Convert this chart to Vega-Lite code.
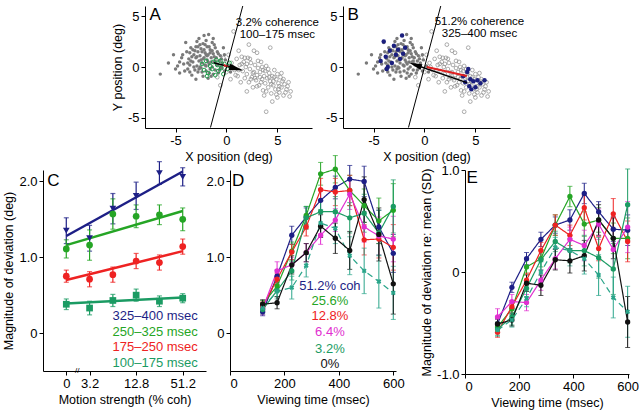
{
"$schema": "https://vega.github.io/schema/vega-lite/v6.json",
"padding": {"left": 2, "top": 5, "right": 0, "bottom": 3},
"background": "white",
"config": {
  "view": {"stroke": null},
  "font": "Liberation Sans",
  "axis": {"grid": false, "domainColor": "#000", "domainWidth": 1, "tickColor": "#000", "tickSize": 4, "labelColor": "#000", "labelFontSize": 13, "labelPadding": 2, "titleColor": "#000", "titleFontSize": 12.5, "titleFontWeight": "normal", "titlePadding": 3, "labelFont": "Liberation Sans", "titleFont": "Liberation Sans"},
  "text": {"font": "Liberation Sans"}
},
"datasets": {
  "filledCloud": [
    {"x":-6.5,"y":-0.7},{"x":-5.7,"y":0.4},{"x":-5.2,"y":1.2},{"x":-4.8,"y":0.1},{"x":-4.6,"y":-0.6},{"x":-4.4,"y":0.9},{"x":-4.2,"y":0.3},{"x":-4.0,"y":2.4},{"x":-3.9,"y":1.5},{"x":-3.8,"y":-0.2},
    {"x":-3.7,"y":0.8},{"x":-3.6,"y":0.2},{"x":-3.5,"y":1.9},{"x":-3.4,"y":-0.8},{"x":-3.3,"y":0.5},{"x":-3.2,"y":1.2},{"x":-3.1,"y":-0.3},{"x":-3.0,"y":2.0},{"x":-3.0,"y":0.9},{"x":-2.9,"y":0.1},
    {"x":-2.8,"y":1.5},{"x":-2.8,"y":-0.5},{"x":-2.7,"y":2.8},{"x":-2.7,"y":0.6},{"x":-2.6,"y":1.1},{"x":-2.5,"y":-0.1},{"x":-2.5,"y":1.8},{"x":-2.4,"y":0.4},{"x":-2.3,"y":2.3},{"x":-2.3,"y":-0.9},
    {"x":-2.2,"y":3.1},{"x":-2.2,"y":0.9},{"x":-2.1,"y":1.4},{"x":-2.0,"y":0.1},{"x":-2.0,"y":-0.4},{"x":-1.9,"y":2.0},{"x":-1.9,"y":0.7},{"x":-1.8,"y":1.2},{"x":-1.8,"y":-1.1},{"x":-1.75,"y":3.2},
    {"x":-1.7,"y":0.3},{"x":-1.6,"y":1.7},{"x":-1.6,"y":-0.2},{"x":-1.5,"y":0.9},{"x":-1.4,"y":2.4},{"x":-1.4,"y":0.0},{"x":-1.3,"y":1.3},{"x":-1.3,"y":-0.7},{"x":-1.2,"y":0.5},{"x":-1.1,"y":1.9},
    {"x":-1.1,"y":-0.3},{"x":-1.0,"y":0.9},{"x":-0.9,"y":0.2},{"x":-0.9,"y":1.5},{"x":-0.8,"y":-0.6},{"x":-0.7,"y":0.6},{"x":-0.6,"y":1.1},{"x":-0.5,"y":-0.1},{"x":-0.4,"y":0.4},{"x":-0.3,"y":1.9},
    {"x":-0.2,"y":-0.4},{"x":-0.1,"y":0.7},{"x":0.2,"y":0.1},{"x":0.4,"y":-0.5},{"x":-3.6,"y":1.4},{"x":-4.1,"y":-0.4},{"x":-2.6,"y":0.0},{"x":-2.0,"y":2.6},{"x":-1.5,"y":-0.9},{"x":-3.0,"y":-1.2},
    {"x":-3.3,"y":1.7},{"x":-2.9,"y":1.0},{"x":-2.6,"y":2.2},{"x":-2.4,"y":1.5},{"x":-2.1,"y":0.2},{"x":-1.9,"y":1.1},{"x":-1.7,"y":2.0},{"x":-1.5,"y":0.5},{"x":-1.2,"y":1.0},{"x":-2.7,"y":-0.2},
    {"x":-3.5,"y":0.6},{"x":-1.0,"y":0.3},{"x":-2.3,"y":0.8},{"x":-1.6,"y":1.4},{"x":-3.1,"y":1.6},{"x":-4.3,"y":1.2},{"x":-0.6,"y":0.0},{"x":-2.9,"y":2.5},{"x":-1.3,"y":2.8},{"x":-0.8,"y":1.3},
    {"x":-3.8,"y":0.4},{"x":-3.4,"y":1.0},{"x":-3.2,"y":0.0},{"x":-2.5,"y":0.7},{"x":-2.2,"y":1.7},{"x":-2.0,"y":1.2},{"x":-1.8,"y":0.5},{"x":-1.4,"y":1.6},{"x":-1.1,"y":0.6},{"x":-0.5,"y":0.8},
    {"x":-2.8,"y":2.0},{"x":-3.6,"y":-0.5},{"x":-2.4,"y":-0.5},{"x":-1.7,"y":-0.6},{"x":-0.7,"y":-0.3},{"x":-4.6,"y":0.5},{"x":-5.0,"y":-0.2},{"x":-2.1,"y":2.2},{"x":-1.2,"y":2.2},{"x":-0.2,"y":1.2}
  ],
  "openCloud": [
    {"x":-0.9,"y":-1.0},{"x":-0.6,"y":-1.8},{"x":-0.3,"y":0.9},{"x":0.0,"y":-0.5},{"x":0.2,"y":1.2},{"x":0.4,"y":-1.2},{"x":0.5,"y":0.4},{"x":0.7,"y":3.5},{"x":0.8,"y":-0.3},{"x":1.0,"y":0.8},
    {"x":1.1,"y":-0.9},{"x":1.3,"y":0.2},{"x":1.4,"y":-1.5},{"x":1.5,"y":1.0},{"x":1.6,"y":-0.4},{"x":1.7,"y":0.5},{"x":1.8,"y":-1.1},{"x":1.9,"y":0.0},{"x":2.0,"y":-0.7},{"x":2.1,"y":0.9},
    {"x":2.2,"y":2.2},{"x":2.2,"y":-1.5},{"x":2.3,"y":-0.2},{"x":2.4,"y":0.4},{"x":2.5,"y":-1.0},{"x":2.6,"y":-2.0},{"x":2.7,"y":1.6},{"x":2.7,"y":-0.5},{"x":2.8,"y":0.2},{"x":2.9,"y":-1.3},
    {"x":3.0,"y":-0.8},{"x":3.1,"y":-0.1},{"x":3.2,"y":-1.8},{"x":3.3,"y":-0.5},{"x":3.4,"y":0.5},{"x":3.5,"y":-1.2},{"x":3.6,"y":-2.3},{"x":3.6,"y":-0.3},{"x":3.7,"y":-0.9},{"x":3.8,"y":-1.6},
    {"x":3.9,"y":-4.4},{"x":3.9,"y":0.1},{"x":4.0,"y":-1.1},{"x":4.1,"y":-2.0},{"x":4.2,"y":-0.6},{"x":4.3,"y":1.9},{"x":4.3,"y":-1.4},{"x":4.4,"y":-2.6},{"x":4.5,"y":-0.9},{"x":4.6,"y":-1.8},
    {"x":4.7,"y":-0.3},{"x":4.8,"y":-2.2},{"x":4.9,"y":-1.2},{"x":5.0,"y":-3.0},{"x":5.0,"y":-0.7},{"x":5.1,"y":-1.6},{"x":5.2,"y":-2.5},{"x":5.3,"y":-1.0},{"x":5.4,"y":-2.0},{"x":5.5,"y":-1.4},
    {"x":5.6,"y":-2.8},{"x":5.7,"y":-1.7},{"x":5.9,"y":-2.2},{"x":6.1,"y":-1.5},{"x":6.2,"y":-2.9},{"x":6.3,"y":-2.4},{"x":1.2,"y":1.6},{"x":3.0,"y":1.4},{"x":2.0,"y":-2.4},{"x":4.5,"y":-3.4},
    {"x":1.5,"y":0.3},{"x":2.3,"y":0.8},{"x":2.6,"y":-0.6},{"x":3.0,"y":-1.9},{"x":3.3,"y":-1.0},{"x":3.5,"y":0.0},{"x":3.9,"y":-2.4},{"x":4.1,"y":-0.2},{"x":4.4,"y":-1.7},{"x":4.7,"y":-1.0},
    {"x":5.1,"y":-2.2},{"x":5.4,"y":-0.6},{"x":5.8,"y":-2.5},{"x":2.4,"y":-1.2},{"x":1.8,"y":0.9},{"x":0.6,"y":0.0},{"x":0.9,"y":-0.8},{"x":3.7,"y":-2.8},{"x":4.9,"y":-2.7},{"x":6.0,"y":-1.9},
    {"x":1.2,"y":-0.3},{"x":2.0,"y":0.3},{"x":2.8,"y":-1.1},{"x":3.4,"y":-1.5},{"x":4.2,"y":-1.0},{"x":4.6,"y":-1.4},{"x":5.2,"y":-1.9},{"x":5.6,"y":-1.2},{"x":3.1,"y":0.6},{"x":3.8,"y":-0.4}
  ],
  "greenA": [
    {"x":-2.4,"y":0.3},{"x":-2.2,"y":-0.3},{"x":-2.0,"y":0.6},{"x":-1.8,"y":-0.6},{"x":-1.6,"y":0.1},{"x":-1.4,"y":-0.2},{"x":-1.3,"y":0.5},{"x":-1.1,"y":-0.8},{"x":-0.9,"y":0.2},
    {"x":-0.8,"y":-0.4},{"x":-0.6,"y":0.6},{"x":-0.5,"y":-0.1},{"x":-0.3,"y":-0.7},{"x":-0.2,"y":0.3},{"x":0.1,"y":-0.2},{"x":0.3,"y":0.4},{"x":-1.9,"y":-0.9},{"x":-1.0,"y":0.7}
  ],
  "navyB": [
    {"x":-4.3,"y":0.6},{"x":-4.0,"y":2.5},{"x":-3.8,"y":1.0},{"x":-3.6,"y":0.0},{"x":-3.4,"y":1.6},{"x":-3.2,"y":0.4},{"x":-3.0,"y":2.1},{"x":-2.8,"y":1.2},{"x":-2.6,"y":1.7},{"x":-2.4,"y":0.8},
    {"x":-2.2,"y":3.1},{"x":-2.1,"y":1.3},{"x":-1.9,"y":1.9},{"x":-3.7,"y":-0.2},
    {"x":3.8,"y":-0.9},{"x":4.0,"y":-1.5},{"x":4.2,"y":-0.5},{"x":4.4,"y":-1.9},{"x":4.5,"y":-1.2},{"x":4.6,"y":-2.2},{"x":4.8,"y":-1.4},{"x":5.0,"y":-2.0},{"x":5.2,"y":-1.3},{"x":5.5,"y":-1.6},{"x":4.3,"y":-0.2},{"x":5.9,"y":-1.3}
  ],
  "diag": [{"x": -1.57, "y": -5.95, "x2": 1.6, "y2": 6.0}],
  "C": [
    {"grp":"325–400 msec","coh":"0","pos":0,"v":1.35,"err":0.17},
    {"grp":"325–400 msec","coh":"3.2","pos":1,"v":1.25,"err":0.17},
    {"grp":"325–400 msec","coh":"6.4","pos":2,"v":1.64,"err":0.2},
    {"grp":"325–400 msec","coh":"12.8","pos":3,"v":1.81,"err":0.18},
    {"grp":"325–400 msec","coh":"25.6","pos":4,"v":2.11,"err":0.15},
    {"grp":"325–400 msec","coh":"51.2","pos":5,"v":2.06,"err":0.12},
    {"grp":"250–325 msec","coh":"0","pos":0,"v":1.11,"err":0.12},
    {"grp":"250–325 msec","coh":"3.2","pos":1,"v":1.16,"err":0.2},
    {"grp":"250–325 msec","coh":"6.4","pos":2,"v":1.57,"err":0.2},
    {"grp":"250–325 msec","coh":"12.8","pos":3,"v":1.54,"err":0.15},
    {"grp":"250–325 msec","coh":"25.6","pos":4,"v":1.56,"err":0.13},
    {"grp":"250–325 msec","coh":"51.2","pos":5,"v":1.50,"err":0.15},
    {"grp":"175–250 msec","coh":"0","pos":0,"v":0.75,"err":0.08},
    {"grp":"175–250 msec","coh":"3.2","pos":1,"v":0.71,"err":0.1},
    {"grp":"175–250 msec","coh":"6.4","pos":2,"v":0.77,"err":0.1},
    {"grp":"175–250 msec","coh":"12.8","pos":3,"v":0.95,"err":0.1},
    {"grp":"175–250 msec","coh":"25.6","pos":4,"v":0.93,"err":0.1},
    {"grp":"175–250 msec","coh":"51.2","pos":5,"v":1.14,"err":0.1},
    {"grp":"100–175 msec","coh":"0","pos":0,"v":0.38,"err":0.07},
    {"grp":"100–175 msec","coh":"3.2","pos":1,"v":0.33,"err":0.09},
    {"grp":"100–175 msec","coh":"6.4","pos":2,"v":0.43,"err":0.08},
    {"grp":"100–175 msec","coh":"12.8","pos":3,"v":0.50,"err":0.08},
    {"grp":"100–175 msec","coh":"25.6","pos":4,"v":0.42,"err":0.07},
    {"grp":"100–175 msec","coh":"51.2","pos":5,"v":0.46,"err":0.06}
  ],
  "Cfit": [
    {"grp":"325–400 msec","pos":0,"v":1.28},{"grp":"325–400 msec","pos":5,"v":2.13},
    {"grp":"250–325 msec","pos":0,"v":1.16},{"grp":"250–325 msec","pos":5,"v":1.61},
    {"grp":"175–250 msec","pos":0,"v":0.70},{"grp":"175–250 msec","pos":5,"v":1.08},
    {"grp":"100–175 msec","pos":0,"v":0.39},{"grp":"100–175 msec","pos":5,"v":0.47}
  ],
  "Clegend": [
    {"grp":"325–400 msec","pos":5.65,"v":0.23},
    {"grp":"250–325 msec","pos":5.65,"v":0.01},
    {"grp":"175–250 msec","pos":5.65,"v":-0.19},
    {"grp":"100–175 msec","pos":5.65,"v":-0.39}
  ],
  "DE": [
    {"series":"51.2","t":120,"d":0.28,"de":0.05,"e":-0.51,"ee":0.05},
    {"series":"51.2","t":173,"d":0.75,"de":0.08,"e":-0.15,"ee":0.05},
    {"series":"51.2","t":227,"d":1.29,"de":0.12,"e":0.13,"ee":0.06},
    {"series":"51.2","t":280,"d":1.53,"de":0.12,"e":0.32,"ee":0.07},
    {"series":"51.2","t":333,"d":1.75,"de":0.15,"e":0.46,"ee":0.08},
    {"series":"51.2","t":387,"d":1.92,"de":0.15,"e":0.51,"ee":0.1},
    {"series":"51.2","t":440,"d":2.03,"de":0.18,"e":0.77,"ee":0.1},
    {"series":"51.2","t":493,"d":2.00,"de":0.2,"e":0.59,"ee":0.1},
    {"series":"51.2","t":547,"d":1.40,"de":0.22,"e":0.42,"ee":0.12},
    {"series":"51.2","t":600,"d":1.05,"de":0.25,"e":0.41,"ee":0.15},
    {"series":"25.6","t":120,"d":0.38,"de":0.05,"e":-0.54,"ee":0.05},
    {"series":"25.6","t":173,"d":0.62,"de":0.07,"e":-0.36,"ee":0.06},
    {"series":"25.6","t":227,"d":1.08,"de":0.12,"e":0.05,"ee":0.07},
    {"series":"25.6","t":280,"d":1.55,"de":0.12,"e":0.13,"ee":0.08},
    {"series":"25.6","t":333,"d":2.10,"de":0.15,"e":0.46,"ee":0.1},
    {"series":"25.6","t":387,"d":2.16,"de":0.18,"e":0.74,"ee":0.1},
    {"series":"25.6","t":440,"d":1.88,"de":0.2,"e":0.47,"ee":0.12},
    {"series":"25.6","t":493,"d":1.68,"de":0.22,"e":0.51,"ee":0.12},
    {"series":"25.6","t":547,"d":1.48,"de":0.3,"e":0.33,"ee":0.15},
    {"series":"25.6","t":600,"d":1.62,"de":0.35,"e":0.33,"ee":0.2},
    {"series":"12.8","t":120,"d":0.35,"de":0.06,"e":-0.59,"ee":0.05},
    {"series":"12.8","t":173,"d":0.71,"de":0.08,"e":-0.34,"ee":0.06},
    {"series":"12.8","t":227,"d":1.07,"de":0.1,"e":-0.08,"ee":0.07},
    {"series":"12.8","t":280,"d":1.40,"de":0.12,"e":0.21,"ee":0.08},
    {"series":"12.8","t":333,"d":1.89,"de":0.15,"e":0.46,"ee":0.1},
    {"series":"12.8","t":387,"d":1.86,"de":0.18,"e":0.36,"ee":0.1},
    {"series":"12.8","t":440,"d":1.88,"de":0.2,"e":0.63,"ee":0.12},
    {"series":"12.8","t":493,"d":1.23,"de":0.2,"e":0.23,"ee":0.12},
    {"series":"12.8","t":547,"d":1.24,"de":0.25,"e":0.57,"ee":0.15},
    {"series":"12.8","t":600,"d":1.13,"de":0.3,"e":0.30,"ee":0.2},
    {"series":"6.4","t":120,"d":0.32,"de":0.08,"e":-0.44,"ee":0.08},
    {"series":"6.4","t":173,"d":0.82,"de":0.12,"e":-0.29,"ee":0.07},
    {"series":"6.4","t":227,"d":0.90,"de":0.1,"e":-0.30,"ee":0.08},
    {"series":"6.4","t":280,"d":1.06,"de":0.12,"e":-0.08,"ee":0.1},
    {"series":"6.4","t":333,"d":1.29,"de":0.12,"e":0.13,"ee":0.1},
    {"series":"6.4","t":387,"d":1.49,"de":0.15,"e":0.32,"ee":0.12},
    {"series":"6.4","t":440,"d":1.83,"de":0.2,"e":0.26,"ee":0.15},
    {"series":"6.4","t":493,"d":1.40,"de":0.2,"e":0.47,"ee":0.15},
    {"series":"6.4","t":547,"d":1.28,"de":0.25,"e":0.22,"ee":0.2},
    {"series":"6.4","t":600,"d":1.24,"de":0.3,"e":0.44,"ee":0.25},
    {"series":"3.2","t":120,"d":0.31,"de":0.06,"e":-0.56,"ee":0.06},
    {"series":"3.2","t":173,"d":0.56,"de":0.08,"e":-0.44,"ee":0.08},
    {"series":"3.2","t":227,"d":0.82,"de":0.12,"e":-0.16,"ee":0.08},
    {"series":"3.2","t":280,"d":1.52,"de":0.15,"e":0.12,"ee":0.1},
    {"series":"3.2","t":333,"d":1.60,"de":0.15,"e":0.30,"ee":0.1},
    {"series":"3.2","t":387,"d":1.60,"de":0.2,"e":0.21,"ee":0.12},
    {"series":"3.2","t":440,"d":1.52,"de":0.2,"e":0.21,"ee":0.15},
    {"series":"3.2","t":493,"d":1.58,"de":0.25,"e":0.14,"ee":0.2},
    {"series":"3.2","t":547,"d":1.32,"de":0.3,"e":0.03,"ee":0.25},
    {"series":"3.2","t":600,"d":1.67,"de":0.35,"e":0.66,"ee":0.35},
    {"series":"3.2x","t":120,"d":0.33,"de":0.06,"e":-0.57,"ee":0.06},
    {"series":"3.2x","t":173,"d":0.55,"de":0.1,"e":-0.47,"ee":0.07},
    {"series":"3.2x","t":227,"d":0.60,"de":0.15,"e":-0.26,"ee":0.08},
    {"series":"3.2x","t":280,"d":0.89,"de":0.15,"e":0.00,"ee":0.1},
    {"series":"3.2x","t":333,"d":1.45,"de":0.18,"e":0.24,"ee":0.1},
    {"series":"3.2x","t":387,"d":1.38,"de":0.2,"e":0.21,"ee":0.15},
    {"series":"3.2x","t":440,"d":1.02,"de":0.25,"e":0.13,"ee":0.15},
    {"series":"3.2x","t":493,"d":0.82,"de":0.3,"e":-0.03,"ee":0.2},
    {"series":"3.2x","t":547,"d":0.68,"de":0.35,"e":-0.25,"ee":0.2},
    {"series":"3.2x","t":600,"d":0.53,"de":0.35,"e":-0.39,"ee":0.25},
    {"series":"0","t":120,"d":0.38,"de":0.06,"e":-0.51,"ee":0.05},
    {"series":"0","t":173,"d":0.40,"de":0.08,"e":-0.47,"ee":0.06},
    {"series":"0","t":227,"d":0.90,"de":0.12,"e":-0.11,"ee":0.08},
    {"series":"0","t":280,"d":1.06,"de":0.12,"e":-0.13,"ee":0.1},
    {"series":"0","t":333,"d":1.41,"de":0.15,"e":0.12,"ee":0.1},
    {"series":"0","t":387,"d":1.25,"de":0.2,"e":0.11,"ee":0.12},
    {"series":"0","t":440,"d":1.09,"de":0.25,"e":0.16,"ee":0.15},
    {"series":"0","t":493,"d":1.76,"de":0.3,"e":0.51,"ee":0.15},
    {"series":"0","t":547,"d":1.30,"de":0.35,"e":0.33,"ee":0.2},
    {"series":"0","t":600,"d":0.65,"de":0.4,"e":-0.49,"ee":0.25}
  ],
  "Dleg": [
    {"series":"51.2","label":"51.2% coh","t":367,"d":0.62},
    {"series":"25.6","label":"25.6%","t":367,"d":0.42},
    {"series":"12.8","label":"12.8%","t":367,"d":0.22},
    {"series":"6.4","label":"6.4%","t":367,"d":0.01},
    {"series":"3.2","label":"3.2%","t":367,"d":-0.21},
    {"series":"0","label":"0%","t":367,"d":-0.41}
  ]
},
"spacing": -8,
"vconcat": [
  {
    "spacing": 31,
    "bounds": "flush",
    "hconcat": [
      {"width": 71, "height": 122, "data": {"values": [{}]}, "mark": "text", "encoding": {"text": {"value": ""}}},
      {
        "width": 167, "height": 122,
        "encoding": {
          "x": {"field": "x", "type": "quantitative", "scale": {"domain": [-8, 8.4], "nice": false, "zero": false}, "axis": {"values": [-5, 0, 5], "title": "X position (deg)", "labelExpr": "datum.value < 0 ? '-' + abs(datum.value) : '' + datum.value"}},
          "y": {"field": "y", "type": "quantitative", "scale": {"domain": [-6, 6], "nice": false, "zero": false}, "axis": {"values": [-5, 0, 5], "title": "Y position (deg)", "labelExpr": "datum.value < 0 ? '-' + abs(datum.value) : '' + datum.value"}}
        },
        "layer": [
          {"data": {"name": "openCloud"}, "mark": {"type": "point", "shape": "circle", "filled": false, "size": 14, "strokeWidth": 0.7, "color": "#8a8a8a", "opacity": 1}},
          {"data": {"name": "filledCloud"}, "mark": {"type": "circle", "size": 12, "color": "#7a7a7a", "opacity": 1}},
          {"data": {"name": "greenA"}, "mark": {"type": "point", "shape": "circle", "filled": false, "size": 14, "strokeWidth": 1, "color": "#1ea04a", "opacity": 1}},
          {"data": {"name": "diag"}, "mark": {"type": "rule", "color": "#000", "strokeWidth": 1}, "encoding": {"x2": {"field": "x2"}, "y2": {"field": "y2"}}},
          {"data": {"values": [{"x": -1.24, "y": 0.42, "x2": 1.0, "y2": -0.17}]}, "mark": {"type": "rule", "color": "#000", "strokeWidth": 1.5}, "encoding": {"x2": {"field": "x2"}, "y2": {"field": "y2"}}},
          {"data": {"values": [{"x": 0.97, "y": -0.16}]}, "mark": {"type": "point", "shape": "M-1,-0.45L1,0L-1,0.45Z", "filled": true, "size": 200, "angle": 14.6, "color": "#000", "opacity": 1}},
          {"data": {"values": [{"x": 0.0, "y": 0.1}]}, "mark": {"type": "point", "shape": "M-1,-0.45L1,0L-1,0.45Z", "filled": true, "size": 30, "angle": 14.6, "color": "#e02020", "opacity": 1}},
          {"data": {"values": [{"x": 5.0, "y": 4.3, "label": "3.2% coherence"}, {"x": 5.0, "y": 3.1, "label": "100–175 msec"}]}, "mark": {"type": "text", "fontSize": 11.5, "align": "center", "baseline": "middle", "color": "#000"}, "encoding": {"text": {"field": "label"}}},
          {"data": {"values": [{"x": -7.0, "y": 5.1, "label": "A"}]}, "mark": {"type": "text", "fontSize": 17, "align": "center", "baseline": "middle", "color": "#000"}, "encoding": {"text": {"field": "label"}}}
        ]
      },
      {
        "width": 167, "height": 122,
        "encoding": {
          "x": {"field": "x", "type": "quantitative", "scale": {"domain": [-8, 8.4], "nice": false, "zero": false}, "axis": {"values": [-5, 0, 5], "title": "X position (deg)", "labelExpr": "datum.value < 0 ? '-' + abs(datum.value) : '' + datum.value"}},
          "y": {"field": "y", "type": "quantitative", "scale": {"domain": [-6, 6], "nice": false, "zero": false}, "axis": {"values": [-5, 0, 5], "title": null, "labelExpr": "datum.value < 0 ? '-' + abs(datum.value) : '' + datum.value"}}
        },
        "layer": [
          {"data": {"name": "openCloud"}, "mark": {"type": "point", "shape": "circle", "filled": false, "size": 14, "strokeWidth": 0.7, "color": "#8a8a8a", "opacity": 1}},
          {"data": {"name": "filledCloud"}, "mark": {"type": "circle", "size": 12, "color": "#7a7a7a", "opacity": 1}},
          {"data": {"name": "navyB"}, "mark": {"type": "circle", "size": 20, "color": "#1b1f7e", "opacity": 1}},
          {"data": {"name": "diag"}, "mark": {"type": "rule", "color": "#000", "strokeWidth": 1}, "encoding": {"x2": {"field": "x2"}, "y2": {"field": "y2"}}},
          {"data": {"values": [{"x": 4.16, "y": -1.54, "x2": -1.0, "y2": 0.24}]}, "mark": {"type": "rule", "color": "#000", "strokeWidth": 1.5}, "encoding": {"x2": {"field": "x2"}, "y2": {"field": "y2"}}},
          {"data": {"values": [{"x": 0.23, "y": 0.0, "x2": 4.16, "y2": -0.88}]}, "mark": {"type": "rule", "color": "#e02020", "strokeWidth": 2}, "encoding": {"x2": {"field": "x2"}, "y2": {"field": "y2"}}},
          {"data": {"values": [{"x": -0.9, "y": 0.21}]}, "mark": {"type": "point", "shape": "M-1,-0.45L1,0L-1,0.45Z", "filled": true, "size": 170, "angle": 199, "color": "#000", "opacity": 1}},
          {"data": {"values": [{"x": 5.4, "y": 4.4, "label": "51.2% coherence"}, {"x": 5.4, "y": 3.2, "label": "325–400 msec"}]}, "mark": {"type": "text", "fontSize": 11.5, "align": "center", "baseline": "middle", "color": "#000"}, "encoding": {"text": {"field": "label"}}},
          {"data": {"values": [{"x": -7.0, "y": 5.1, "label": "B"}]}, "mark": {"type": "text", "fontSize": 17, "align": "center", "baseline": "middle", "color": "#000"}, "encoding": {"text": {"field": "label"}}}
        ]
      }
    ]
  },
  {
    "spacing": 24,
    "bounds": "flush",
    "resolve": {"scale": {"color": "independent"}},
    "hconcat": [
      {
        "width": 163, "height": 201,
        "encoding": {
          "x": {"field": "pos", "type": "quantitative", "scale": {"domain": [-1, 6], "nice": false, "zero": false}, "axis": {"values": [0, 1, 3, 5], "title": "Motion strength (% coh)", "labelExpr": "datum.value == 0 ? '0' : datum.value == 1 ? '3.2' : datum.value == 3 ? '12.8' : '51.2'"}},
          "y": {"field": "v", "type": "quantitative", "scale": {"domain": [-0.5, 2.15], "nice": false, "zero": false}, "axis": {"values": [0, 1, 2], "title": "Magnitude of deviation (deg)", "labelExpr": "datum.value == 0 ? '0' : format(datum.value, '.1f')"}},
          "color": {"field": "grp", "type": "nominal", "scale": {"domain": ["325–400 msec", "250–325 msec", "175–250 msec", "100–175 msec"], "range": ["#1d1f86", "#25a525", "#ee2222", "#1b9b63"]}, "legend": null}
        },
        "layer": [
          {"data": {"name": "Cfit"}, "mark": {"type": "line", "strokeWidth": 2.5}},
          {"data": {"name": "C"}, "mark": {"type": "errorbar", "ticks": true, "thickness": 1.2}, "encoding": {"yError": {"field": "err"}}},
          {"data": {"name": "C"}, "mark": {"type": "point", "filled": true, "size": 45, "opacity": 1}, "encoding": {"shape": {"field": "grp", "type": "nominal", "scale": {"domain": ["325–400 msec", "250–325 msec", "175–250 msec", "100–175 msec"], "range": ["triangle-down", "circle", "circle", "square"]}, "legend": null}}},
          {"data": {"name": "Clegend"}, "mark": {"type": "text", "align": "right", "baseline": "middle", "fontSize": 13}, "encoding": {"text": {"field": "grp"}}},
          {"data": {"values": [{"pos": -0.55, "v": 2.0, "label": "C"}]}, "mark": {"type": "text", "fontSize": 17, "align": "center", "baseline": "middle"}, "encoding": {"text": {"field": "label"}, "color": {"value": "#000"}}},
          {"data": {"values": [{"pos": 0.47, "v": -0.5, "label": "//"}]}, "mark": {"type": "text", "fontSize": 8, "align": "center", "baseline": "middle"}, "encoding": {"text": {"field": "label"}, "color": {"value": "#000"}}}
        ]
      },
      {
        "width": 166, "height": 201,
        "data": {"name": "DE"},
        "encoding": {
          "x": {"field": "t", "type": "quantitative", "scale": {"domain": [0, 610], "nice": false, "zero": false}, "axis": {"values": [0, 200, 400, 600], "title": "Viewing time (msec)"}},
          "y": {"field": "d", "type": "quantitative", "scale": {"domain": [-0.5, 2.15], "nice": false, "zero": false}, "axis": {"values": [0, 1, 2], "title": null, "labelExpr": "datum.value == 0 ? '0' : format(datum.value, '.1f')"}},
          "color": {"field": "series", "type": "nominal", "scale": {"domain": ["51.2", "25.6", "12.8", "6.4", "3.2", "3.2x", "0"], "range": ["#1d1f86", "#25a525", "#ee2222", "#e12fd0", "#1b9b63", "#2aa58a", "#111111"]}, "legend": null}
        },
        "layer": [
          {"mark": {"type": "errorbar", "ticks": true, "thickness": 1}, "encoding": {"yError": {"field": "de"}}},
          {"mark": {"type": "line", "strokeWidth": 1.2}, "encoding": {"strokeDash": {"field": "series", "type": "nominal", "scale": {"domain": ["51.2", "25.6", "12.8", "6.4", "3.2", "3.2x", "0"], "range": [[1, 0], [1, 0], [1, 0], [1, 0], [1, 0], [6, 4], [1, 0]]}, "legend": null}}},
          {"transform": [{"filter": "datum.series != '3.2x'"}], "mark": {"type": "circle", "size": 28, "opacity": 1}},
          {"transform": [{"filter": "datum.series == '3.2x'"}], "mark": {"type": "point", "shape": "cross", "angle": 45, "filled": true, "size": 25, "opacity": 1}},
          {"data": {"name": "Dleg"}, "mark": {"type": "text", "align": "center", "baseline": "middle", "fontSize": 13}, "encoding": {"text": {"field": "label"}}},
          {"data": {"values": [{"t": 30, "d": 2.0, "label": "D"}]}, "mark": {"type": "text", "fontSize": 17, "align": "center", "baseline": "middle"}, "encoding": {"text": {"field": "label"}, "color": {"value": "#000"}}}
        ]
      },
      {"width": 21, "height": 201, "data": {"values": [{}]}, "mark": "text", "encoding": {"text": {"value": ""}}},
      {
        "width": 164, "height": 204,
        "data": {"name": "DE"},
        "encoding": {
          "x": {"field": "t", "type": "quantitative", "scale": {"domain": [0, 605], "nice": false, "zero": false}, "axis": {"values": [0, 200, 400, 600], "title": "Viewing time (msec)"}},
          "y": {"field": "e", "type": "quantitative", "scale": {"domain": [-1, 1], "nice": false, "zero": false}, "axis": {"values": [-1, 0, 1], "title": "Magnitude of deviation re: mean (SD)", "labelExpr": "datum.value == 0 ? '0' : (datum.value < 0 ? '-' : '') + format(abs(datum.value), '.1f')"}},
          "color": {"field": "series", "type": "nominal", "scale": {"domain": ["51.2", "25.6", "12.8", "6.4", "3.2", "3.2x", "0"], "range": ["#1d1f86", "#25a525", "#ee2222", "#e12fd0", "#1b9b63", "#2aa58a", "#111111"]}, "legend": null}
        },
        "layer": [
          {"mark": {"type": "errorbar", "ticks": true, "thickness": 1}, "encoding": {"yError": {"field": "ee"}}},
          {"mark": {"type": "line", "strokeWidth": 1.2}, "encoding": {"strokeDash": {"field": "series", "type": "nominal", "scale": {"domain": ["51.2", "25.6", "12.8", "6.4", "3.2", "3.2x", "0"], "range": [[1, 0], [1, 0], [1, 0], [1, 0], [1, 0], [6, 4], [1, 0]]}, "legend": null}}},
          {"transform": [{"filter": "datum.series != '3.2x'"}], "mark": {"type": "circle", "size": 28, "opacity": 1}},
          {"transform": [{"filter": "datum.series == '3.2x'"}], "mark": {"type": "point", "shape": "cross", "angle": 45, "filled": true, "size": 25, "opacity": 1}},
          {"data": {"values": [{"t": 26, "e": 0.92, "label": "E"}]}, "mark": {"type": "text", "fontSize": 17, "align": "center", "baseline": "middle"}, "encoding": {"text": {"field": "label"}, "color": {"value": "#000"}}}
        ]
      }
    ]
  }
]
}
